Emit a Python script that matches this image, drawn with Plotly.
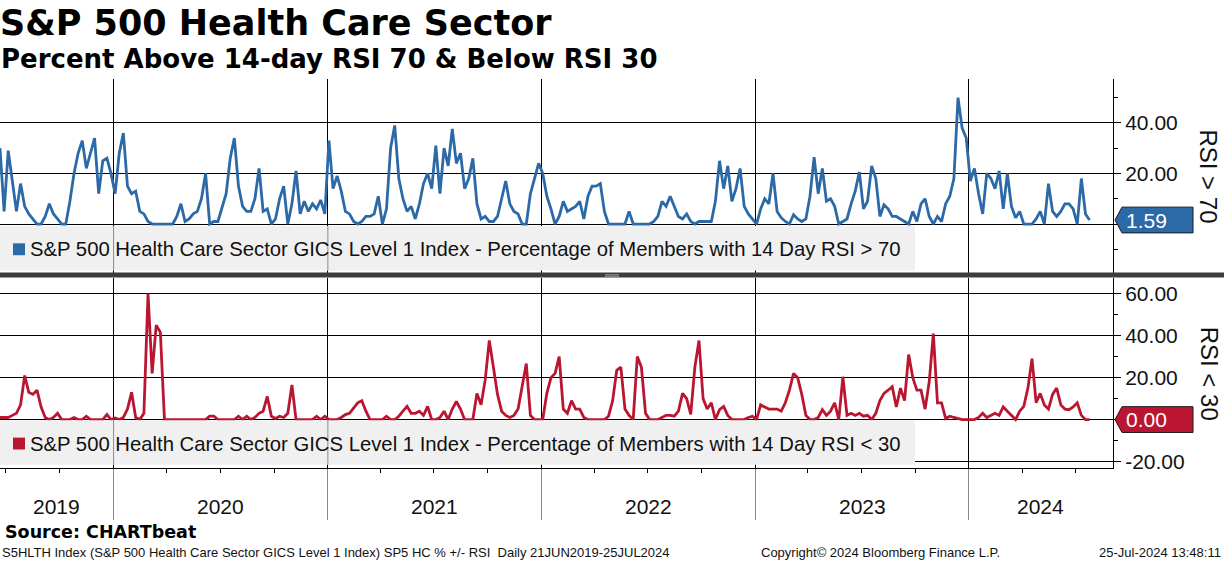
import plotly.graph_objects as go
import pandas as pd

W, H = 1224, 566

# ---------------- data (weekly readings) ----------------
start_date = "2019-06-21"
end_date = "2024-07-25"
axis_start = "2019-06-21"
axis_end = "2024-09-03"
year_starts = ["2020-01-01", "2021-01-01", "2022-01-01", "2023-01-01", "2024-01-01"]
year_labels = ["2019", "2020", "2021", "2022", "2023", "2024"]

rsi_above_70 = [
    30, 5, 29, 18, 5, 16, 7, 4, 2, 0,
    0, 3, 8, 4, 2, 0, 0, 9, 20, 28,
    33, 22, 28, 34, 12, 25, 26, 20, 12, 28,
    36, 15, 12, 13, 5, 4, 1, 0, 0, 0,
    0, 0, 0, 3, 8, 1, 2, 4, 5, 10,
    20, 0, 1, 1, 7, 12, 26, 34, 15, 7,
    5, 5, 10, 22, 5, 6, 0, 2, 10, 15,
    0, 8, 21, 4, 9, 5, 8, 6, 9.5, 4,
    33, 14, 19, 13, 5, 4, 1, 0, 1, 3,
    3, 4, 11, 0, 6, 30, 39, 18,
    10, 5, 7, 2, 8, 16, 20, 14, 31, 12,
    30, 23, 37.6, 24, 28, 14, 18, 26, 8, 2,
    3, 1, 1, 3, 10, 17, 8, 5, 4, 0,
    0, 12, 18, 24, 20, 11, 6, 0, 3, 9,
    5, 6, 7, 9, 2, 11, 15, 15, 16, 5,
    0, 0, 0, 0, 0, 5, 0, 0, 0, 0,
    0, 1, 3, 9, 7, 11, 7, 3, 2, 4,
    1, 0, 1, 1, 1, 1, 9, 25, 14, 23,
    9, 14, 22, 7, 4, 2, 0, 6, 10, 8,
    20, 5, 2.5, 1, 0, 3.7, 2,
    1, 2, 11, 26.5, 12, 22, 9, 10, 7, 0,
    1, 2, 8, 13, 20.6, 6, 9, 23, 18, 3,
    7.6, 6, 3, 3, 2, 1, 0, 5, 1, 8,
    10, 3, 0, 3, 1, 8, 11, 18, 50, 38,
    34, 17, 22, 12, 4, 20, 18, 14, 21, 6,
    20, 7, 2.5, 5, 0, 0, 0, 2, 5, 0,
    16, 5, 3, 5, 8, 8, 6, 0, 18, 4, 1.59,
]

rsi_below_30 = [
    1, 1, 1, 2, 3, 7, 21, 13, 12, 14,
    6, 1, 0, 1, 3, 0, 0, 0, 1, 0,
    0, 1.6, 0, 0, 0, 0, 2.4, 0, 0.8, 0,
    1, 5, 13, 1, 0, 3, 60, 22, 45, 41.6,
    0, 0, 0, 0, 0, 0, 0, 0, 0, 0,
    0, 1.6, 1.6, 0, 0, 0, 0, 0, 1.6, 0,
    1.6, 0, 1, 3, 4, 11, 1.6, 0.5, 1.6, 1,
    3, 16.5, 0, 0, 0, 0, 0, 1.6, 0, 1.6,
    0, 0, 0, 1, 2.4, 3, 5.5, 8, 9, 4,
    0, 0, 0, 0, 1.6, 0, 0, 1.6,
    4, 6.3, 3, 3, 4, 2, 6.3, 0, 0, 1,
    4, 0, 5, 8.6, 5, 0, 0, 0, 12.5, 7,
    18.8, 37.7, 25, 12, 4, 2, 1, 2, 5, 15.7,
    26.7, 2, 0, 0, 0, 12.5, 20, 22, 30, 5,
    3, 9, 5, 5, 1, 0, 0, 0, 0, 0,
    1.6, 9, 23.5, 25, 5, 2, 0, 30, 25, 3,
    0, 0, 0, 1, 2, 2, 1.6, 4, 12.5, 10,
    2.5, 25, 37.7, 10, 5, 8, 0, 4.7, 6.3, 2,
    0, 0, 0, 0, 1, 1.6, 0, 7, 6, 5,
    5, 5, 4, 8, 14, 22, 20,
    12, 2, 0, 0, 1, 4.7, 2, 4, 8, 0,
    20.4, 2, 3, 2, 3, 1.6, 2, 0, 3, 9,
    12.5, 14, 15.7, 6, 15, 9, 31, 20, 14, 14,
    5, 18, 41, 8, 8, 0.5, 1.6, 1, 0.5, 0,
    0, 0, 0, 1, 3, 1, 2, 3, 2, 6,
    4, 2, 0, 4, 6.3, 15, 29, 8, 12.5, 7,
    5, 12, 15, 7, 5, 4.7, 6, 8, 2, 0, 0,
]

top_name = "S&P 500 Health Care Sector GICS Level 1 Index - Percentage of Members with 14 Day RSI > 70"
bot_name = "S&P 500 Health Care Sector GICS Level 1 Index - Percentage of Members with 14 Day RSI < 30"

BLUE = "#2c69a7"
RED = "#bb1631"
TXT = "#111111"
REG = "Liberation Sans, Arial, sans-serif"
BOLD = "DejaVu Sans, sans-serif"

dates_top = pd.date_range(start_date, end_date, periods=len(rsi_above_70))
dates_bot = pd.date_range(start_date, end_date, periods=len(rsi_below_30))

# ---------------- geometry (pixels -> paper) ----------------
def px(v):
    return v / W

def py(v):
    return 1 - v / H

PLOT_R = 1113
top_dom = [py(275), py(80)]
bot_dom = [py(472), py(280)]
top_rng = [-19.2, 57.25]
bot_rng = [-23.0, 67.7]

def val_to_paper(v, dom, rng):
    return dom[0] + (v - rng[0]) / (rng[1] - rng[0]) * (dom[1] - dom[0])

fig = go.Figure()
fig.add_trace(go.Scatter(x=dates_top, y=rsi_above_70, mode="lines",
                         line=dict(color=BLUE, width=2.8), xaxis="x", yaxis="y",
                         showlegend=False, hoverinfo="skip"))
fig.add_trace(go.Scatter(x=dates_bot, y=rsi_below_30, mode="lines",
                         line=dict(color=RED, width=2.8), xaxis="x2", yaxis="y2",
                         showlegend=False, hoverinfo="skip"))

xcommon = dict(range=[axis_start, axis_end], domain=[0, px(PLOT_R)],
               tickvals=year_starts, showgrid=True, gridcolor="black", gridwidth=1,
               showticklabels=False, zeroline=False, fixedrange=True)

ycommon = dict(side="right", showline=True, linecolor="black", linewidth=1,
               ticks="outside", ticklen=7, tickcolor="black", tickwidth=1,
               showgrid=True, gridcolor="black", gridwidth=1, zeroline=False,
               tickfont=dict(family=REG, size=21, color=TXT),
               minor=dict(dtick=10, tick0=0, ticks="outside", ticklen=4,
                          tickcolor="black", showgrid=False),
               fixedrange=True)

fig.update_layout(
    width=W, height=H, autosize=False,
    margin=dict(l=0, r=0, t=0, b=0, pad=0),
    paper_bgcolor="white", plot_bgcolor="white",
    xaxis=dict(**xcommon, anchor="y", ticks="", showline=False),
    xaxis2=dict(**xcommon, anchor="y2", matches="x", showline=True, linecolor="black",
                linewidth=1, ticks="outside", ticklen=51, tickcolor="#8a8a8a",
                tickwidth=1,
                minor=dict(dtick="M3", tick0="2019-01-01", ticks="outside",
                           ticklen=4, tickcolor="black", showgrid=False)),
    yaxis=dict(**ycommon, anchor="x", domain=top_dom, range=top_rng,
               tickvals=[0, 20, 40], ticktext=["", "20.00", "40.00"]),
    yaxis2=dict(**ycommon, anchor="x2", domain=bot_dom, range=bot_rng,
                tickvals=[-20, 0, 20, 40, 60],
                ticktext=["-20.00", "", "20.00", "40.00", "60.00"]),
)

shapes = []
annos = []

# separator bar between panels
shapes.append(dict(type="rect", xref="paper", yref="paper", x0=0, x1=1,
                   y0=py(280), y1=py(275), fillcolor="#3d3d3d", line_width=0, layer="above"))
for yy in (277.3, 278.7):
    shapes.append(dict(type="line", xref="paper", yref="paper", x0=px(605), x1=px(619),
                       y0=py(yy), y1=py(yy), line=dict(color="#9a9a9a", width=1), layer="above"))

# legend boxes
for (y0, y1, col, name, xr) in [(228, 273, BLUE, top_name, "x"), (424, 469, RED, bot_name, "x2")]:
    shapes.append(dict(type="rect", xref="paper", yref="paper", x0=0, x1=px(915),
                       y0=py(y1), y1=py(y0), fillcolor="#f0f0f0", line_width=0, layer="above"))
    for ys in year_starts:
        if pd.Timestamp(ys) < pd.Timestamp("2021-09-01"):
            shapes.append(dict(type="line", xref=xr, yref="paper", x0=ys, x1=ys,
                               y0=py(y1), y1=py(y0), line=dict(color="#8a8a8a", width=1),
                               layer="above"))
    yc = (y0 + y1) / 2 + 1
    shapes.append(dict(type="rect", xref="paper", yref="paper", x0=px(13), x1=px(25),
                       y0=py(yc + 6), y1=py(yc - 6), fillcolor=col, line_width=0, layer="above"))
    annos.append(dict(text=name, xref="paper", yref="paper", x=px(28), y=py(yc),
                      xanchor="left", yanchor="middle", showarrow=False,
                      font=dict(family=REG, size=20.3, color=TXT)))

# value tags on the right axis
for (vals, dom, rng, col) in [(rsi_above_70, top_dom, top_rng, BLUE),
                              (rsi_below_30, bot_dom, bot_rng, RED)]:
    last = vals[-1]
    yv = val_to_paper(last, dom, rng)
    hh = 13 / H
    path = (f"M {px(1115)},{yv} L {px(1122)},{yv + hh} L {px(1193)},{yv + hh} "
            f"L {px(1193)},{yv - hh} L {px(1122)},{yv - hh} Z")
    shapes.append(dict(type="path", xref="paper", yref="paper", path=path,
                       fillcolor=col, line=dict(color="#1a1a1a", width=1), layer="above"))
    annos.append(dict(text=f"{last:.2f}", xref="paper", yref="paper", x=px(1124), y=yv,
                      xanchor="left", yanchor="middle", showarrow=False,
                      font=dict(family=REG, size=21, color="white")))

# axis titles (rotated)
annos.append(dict(text="RSI &gt; 70", xref="paper", yref="paper", x=px(1209), y=py(178),
                  textangle=90, showarrow=False, xanchor="center", yanchor="middle",
                  font=dict(family=REG, size=24, color=TXT)))
annos.append(dict(text="RSI &lt; 30", xref="paper", yref="paper", x=px(1209), y=py(377),
                  textangle=90, showarrow=False, xanchor="center", yanchor="middle",
                  font=dict(family=REG, size=24, color=TXT)))

# year labels centred in the visible span of each year
a0, a1 = pd.Timestamp(axis_start), pd.Timestamp(axis_end)
for lab in year_labels:
    ys = max(pd.Timestamp(f"{lab}-01-01"), a0)
    ye = min(pd.Timestamp(f"{int(lab) + 1}-01-01"), a1)
    mid = ys + (ye - ys) / 2
    annos.append(dict(text=lab, xref="x2", yref="paper", x=mid, y=py(511),
                      xanchor="center", yanchor="middle", showarrow=False,
                      font=dict(family=REG, size=21, color=TXT)))

# titles
annos.append(dict(text="<b>S&P 500 Health Care Sector</b>", xref="paper", yref="paper",
                  x=px(-2), y=py(23), xanchor="left", yanchor="middle", showarrow=False,
                  font=dict(family=BOLD, size=35, color="black")))
annos.append(dict(text="<b>Percent Above 14-day RSI 70 &amp; Below RSI 30</b>", xref="paper",
                  yref="paper", x=px(-1), y=py(60), xanchor="left", yanchor="middle",
                  showarrow=False, font=dict(family=BOLD, size=26, color="black")))

# footer
annos.append(dict(text="<b>Source: CHARTbeat</b>", xref="paper", yref="paper", x=px(3),
                  y=py(537), xanchor="left", yanchor="middle", showarrow=False,
                  font=dict(family=BOLD, size=17.5, color="black")))
annos.append(dict(text="S5HLTH Index (S&P 500 Health Care Sector GICS Level 1 Index) SP5 HC % +/- RSI  Daily 21JUN2019-25JUL2024",
                  xref="paper", yref="paper", x=px(0), y=py(557), xanchor="left",
                  yanchor="middle", showarrow=False,
                  font=dict(family=REG, size=13, color=TXT)))
annos.append(dict(text="Copyright© 2024 Bloomberg Finance L.P.", xref="paper", yref="paper",
                  x=px(880), y=py(557), xanchor="center", yanchor="middle", showarrow=False,
                  font=dict(family=REG, size=13, color=TXT)))
annos.append(dict(text="25-Jul-2024 13:48:11", xref="paper", yref="paper", x=px(1223),
                  y=py(557), xanchor="right", yanchor="middle", showarrow=False,
                  font=dict(family=REG, size=13, color=TXT)))

fig.update_layout(shapes=shapes, annotations=annos)

fig.write_html("out.html", config={"displayModeBar": False, "staticPlot": True},
               post_script="document.body.style.margin='0';document.body.style.overflow='hidden';")
